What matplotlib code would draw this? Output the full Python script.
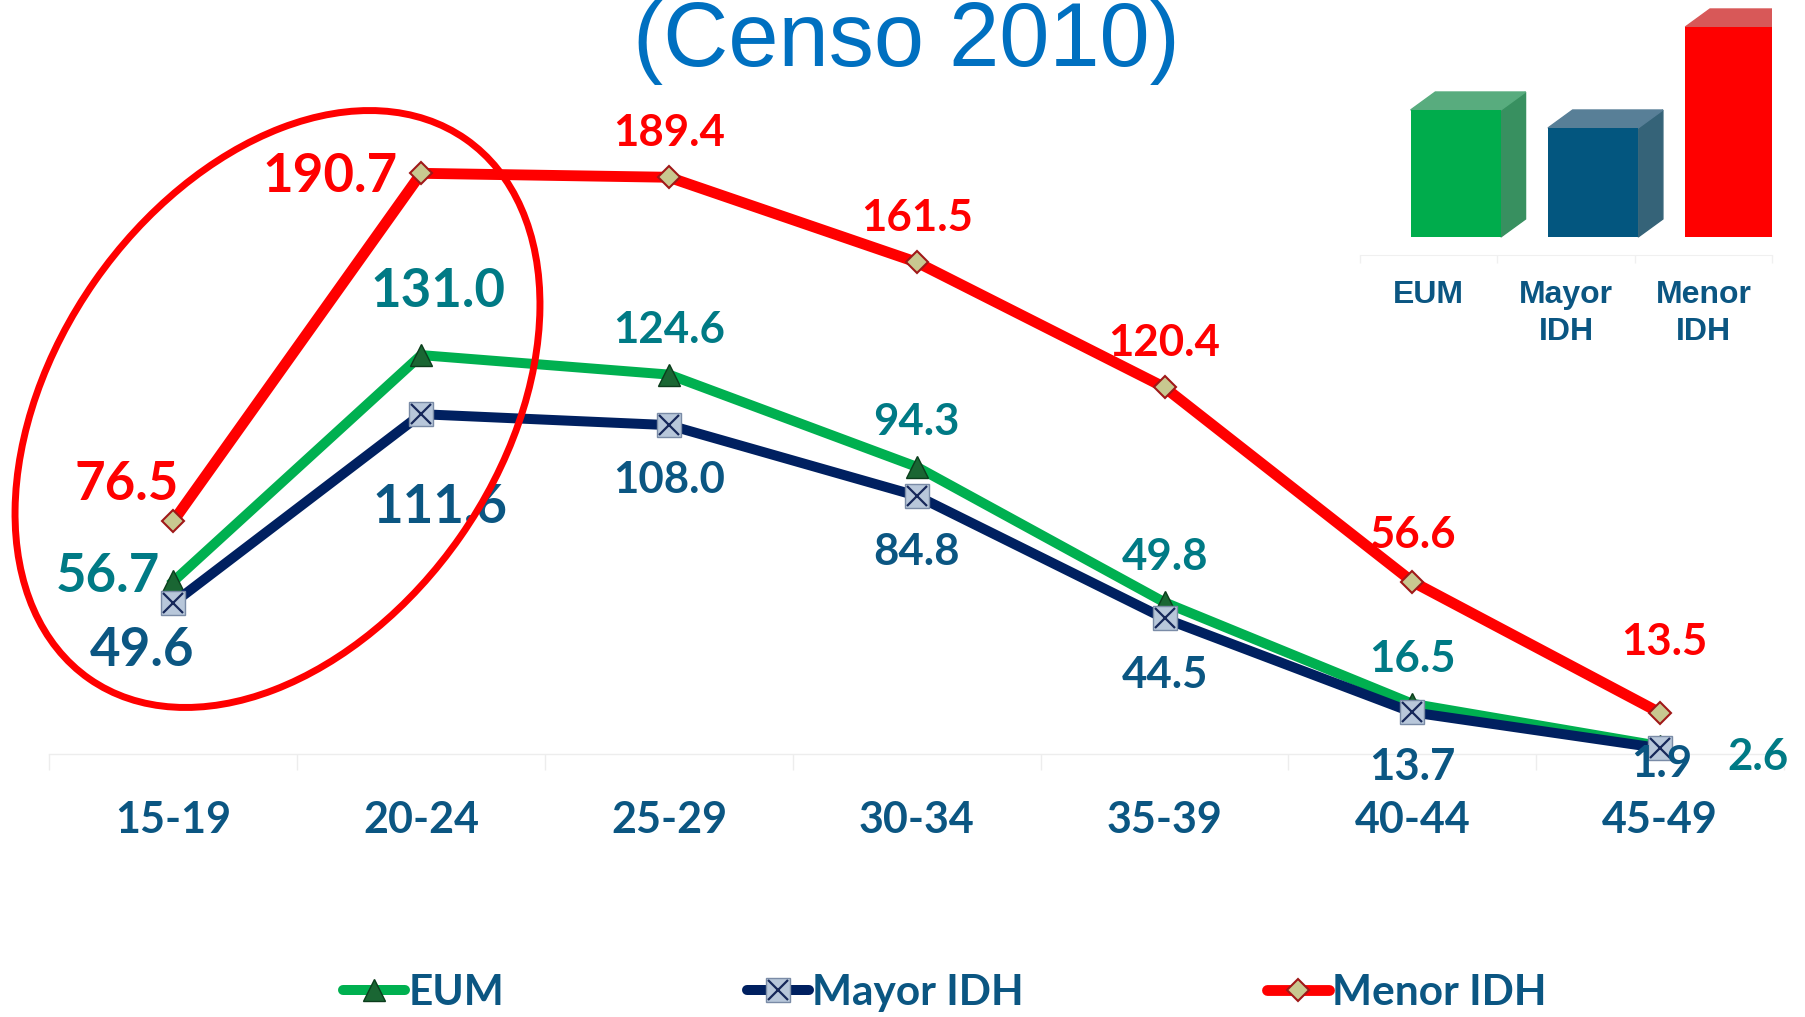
import matplotlib
matplotlib.use('Agg')
import matplotlib.pyplot as plt
from matplotlib.patches import Ellipse, Polygon
from matplotlib.lines import Line2D
import numpy as np

# ---------------- data ----------------
categories = ['15-19', '20-24', '25-29', '30-34', '35-39', '40-44', '45-49']
eum = [56.7, 131.0, 124.6, 94.3, 49.8, 16.5, 2.6]
mayor = [49.6, 111.6, 108.0, 84.8, 44.5, 13.7, 1.9]
menor = [76.5, 190.7, 189.4, 161.5, 120.4, 56.6, 13.5]
series_names = ['EUM', 'Mayor IDH', 'Menor IDH']
inset_labels = ['EUM', 'Mayor\nIDH', 'Menor\nIDH']
inset_values = [127, 109, 210]
title = '(Censo 2010)'

# label offsets (points, baseline-relative) -- style only
off_eum = [(-47.5, -7.7), (12.1, 34.8), (0, 23.0), (0, 23.1), (0, 23.3), (0, 22.8), (70.6, -17.2)]
off_mayor = [(-22.7, -45.4), (13.3, -78.6), (0, -49.2), (0, -49.8), (0, -50.1), (0, -48.7), (1.2, -20.5)]
off_menor = [(-33.8, 14.9), (-65.9, -13.2), (0, 22.7), (0, 22.5), (0, 22.3), (0, 24.0), (2.9, 41.9)]
big = [True, True, False, False, False, False, False]

plt.rcParams['font.family'] = ['Lato', 'DejaVu Sans']

W, H = 1806, 1017
fig = plt.figure(figsize=(W / 100, H / 100), dpi=100)

C_GREEN = '#00B050'
C_NAVY = '#002060'
C_RED = '#FF0000'
C_TEAL = '#007A85'
C_BLUE = '#0B5682'

# ---------------- main axes ----------------
ax = fig.add_axes([49.5 / W, (H - 754) / H, (1784 - 49.5) / W, 240 * 3.045 / H])
x = np.arange(len(categories))

ax.plot(x, eum, color=C_GREEN, lw=7.2, marker='^', ms=16.5, mfc='#1A6633',
        mec='#0B3D1C', mew=1, zorder=3, clip_on=False)
ax.plot(x, mayor, color=C_NAVY, lw=7.2, marker='s', ms=17, mfc='#B8C7DA',
        mec='#7A8BA6', mew=1, zorder=4, clip_on=False)
ax.plot(x, mayor, ls='none', marker='x', ms=15, mec='#17285A', mew=1.6,
        zorder=4.5, clip_on=False)
ax.plot(x, menor, color=C_RED, lw=7.8, marker='D', ms=11, mfc='#C8C890',
        mec='#A01818', mew=1.5, zorder=5, clip_on=False)

for vals, offs, col in [(eum, off_eum, C_TEAL), (mayor, off_mayor, C_BLUE),
                        (menor, off_menor, C_RED)]:
    for i, (v, (dx, dy)) in enumerate(zip(vals, offs)):
        ax.annotate(f'{v:.1f}', xy=(i, v), xytext=(dx, dy), textcoords='offset points',
                    ha='center', va='baseline', fontsize=38 if big[i] else 31.5,
                    fontweight='bold', color=col, zorder=6, annotation_clip=False)

ax.set_xlim(-0.5, 6.5)
ax.set_ylim(0, 240)
ax.set_xticks(x, categories)
ax.set_xticks(np.arange(-0.5, 7, 1), minor=True)
ax.tick_params(axis='x', which='major', length=0, pad=33, labelsize=31, labelcolor=C_BLUE)
ax.tick_params(axis='x', which='minor', length=11.5, color='#EDEDED', width=1)
for lbl in ax.get_xticklabels():
    lbl.set_fontweight('bold')
ax.set_yticks([])
for s in ['top', 'right', 'left']:
    ax.spines[s].set_visible(False)
ax.spines['bottom'].set_color('#EDEDED')
ax.spines['bottom'].set_linewidth(1)
ax.patch.set_alpha(0)

# ---------------- title ----------------
fig.text(906 / W, 1 - 66 / H, title, ha='center', va='baseline', fontsize=65,
         color='#0070C0', family='Liberation Sans')

# ---------------- inset 3D-like bars ----------------
iax = fig.add_axes([1360 / W, (H - 255) / H, 412 / W, 255 / H])
iax.set_xlim(-0.5, 2.5)
iax.set_ylim(0, 255)
front = ['#00AC4C', '#03567F', '#FF0000']
side = ['#389060', '#356378', '#B63838']
top = ['#58AC7E', '#587F97', '#D85858']
floor = 18
ddx, ddy = 0.18, 18
bars = iax.bar(np.arange(3) + 0.197, inset_values, width=0.657, bottom=floor,
               color=front, zorder=2)
for b, sc, tc in zip(bars, side, top):
    x0 = b.get_x(); x1 = x0 + b.get_width()
    y0 = b.get_y(); y1 = y0 + b.get_height()
    iax.add_patch(Polygon([[x1, y0], [x1 + ddx, y0 + ddy], [x1 + ddx, y1 + ddy], [x1, y1]],
                          closed=True, color=sc, zorder=1.5))
    iax.add_patch(Polygon([[x0, y1], [x0 + ddx, y1 + ddy], [x1 + ddx, y1 + ddy], [x1, y1]],
                          closed=True, color=tc, zorder=1.5))
iax.set_xticks(np.arange(3), inset_labels)
iax.set_xticks(np.arange(-0.5, 3, 1), minor=True)
iax.tick_params(axis='x', which='major', length=0, pad=18, labelsize=23, labelcolor=C_BLUE)
iax.tick_params(axis='x', which='minor', length=6, color='#F0F0F0', width=1)
for lbl in iax.get_xticklabels():
    lbl.set_fontweight('bold')
    lbl.set_family('Liberation Sans')
    lbl.set_linespacing(1.3)
    lbl.set_va('top')
iax.set_yticks([])
for s in ['top', 'right', 'left']:
    iax.spines[s].set_visible(False)
iax.spines['bottom'].set_color('#F0F0F0')
iax.patch.set_alpha(0)

# ---------------- legend ----------------
h_eum = Line2D([], [], color=C_GREEN, lw=7.2, marker='^', ms=16.5, mfc='#1A6633',
               mec='#0B3D1C', solid_capstyle='round')
h_may = (Line2D([], [], color=C_NAVY, lw=7.2, marker='s', ms=17, mfc='#B8C7DA',
                mec='#7A8BA6', solid_capstyle='round'),
         Line2D([], [], ls='none', marker='x', ms=15, mec='#17285A', mew=1.6))
h_men = Line2D([], [], color=C_RED, lw=7.8, marker='D', ms=11, mfc='#C8C890',
               mec='#A01818', mew=1.5, solid_capstyle='round')
leg = fig.legend([h_eum, h_may, h_men], series_names, loc='center',
                 bbox_to_anchor=(945 / W, (H - 993) / H), ncol=3, frameon=False,
                 prop={'family': 'Lato', 'weight': 'bold', 'size': 30.5},
                 labelcolor=C_BLUE, handlelength=1.46, handletextpad=0.08,
                 columnspacing=5.73, borderpad=0, borderaxespad=0)

# ---------------- highlight ellipse ----------------
oax = fig.add_axes([0, 0, 1, 1], zorder=10)
oax.set_xlim(0, W)
oax.set_ylim(0, H)
oax.axis('off')
oax.patch.set_alpha(0)
oax.add_patch(Ellipse((277.5, H - 409), 658, 446, angle=55.1, fill=False,
                      ec=C_RED, lw=5))

fig.savefig('out.png', dpi=100)
